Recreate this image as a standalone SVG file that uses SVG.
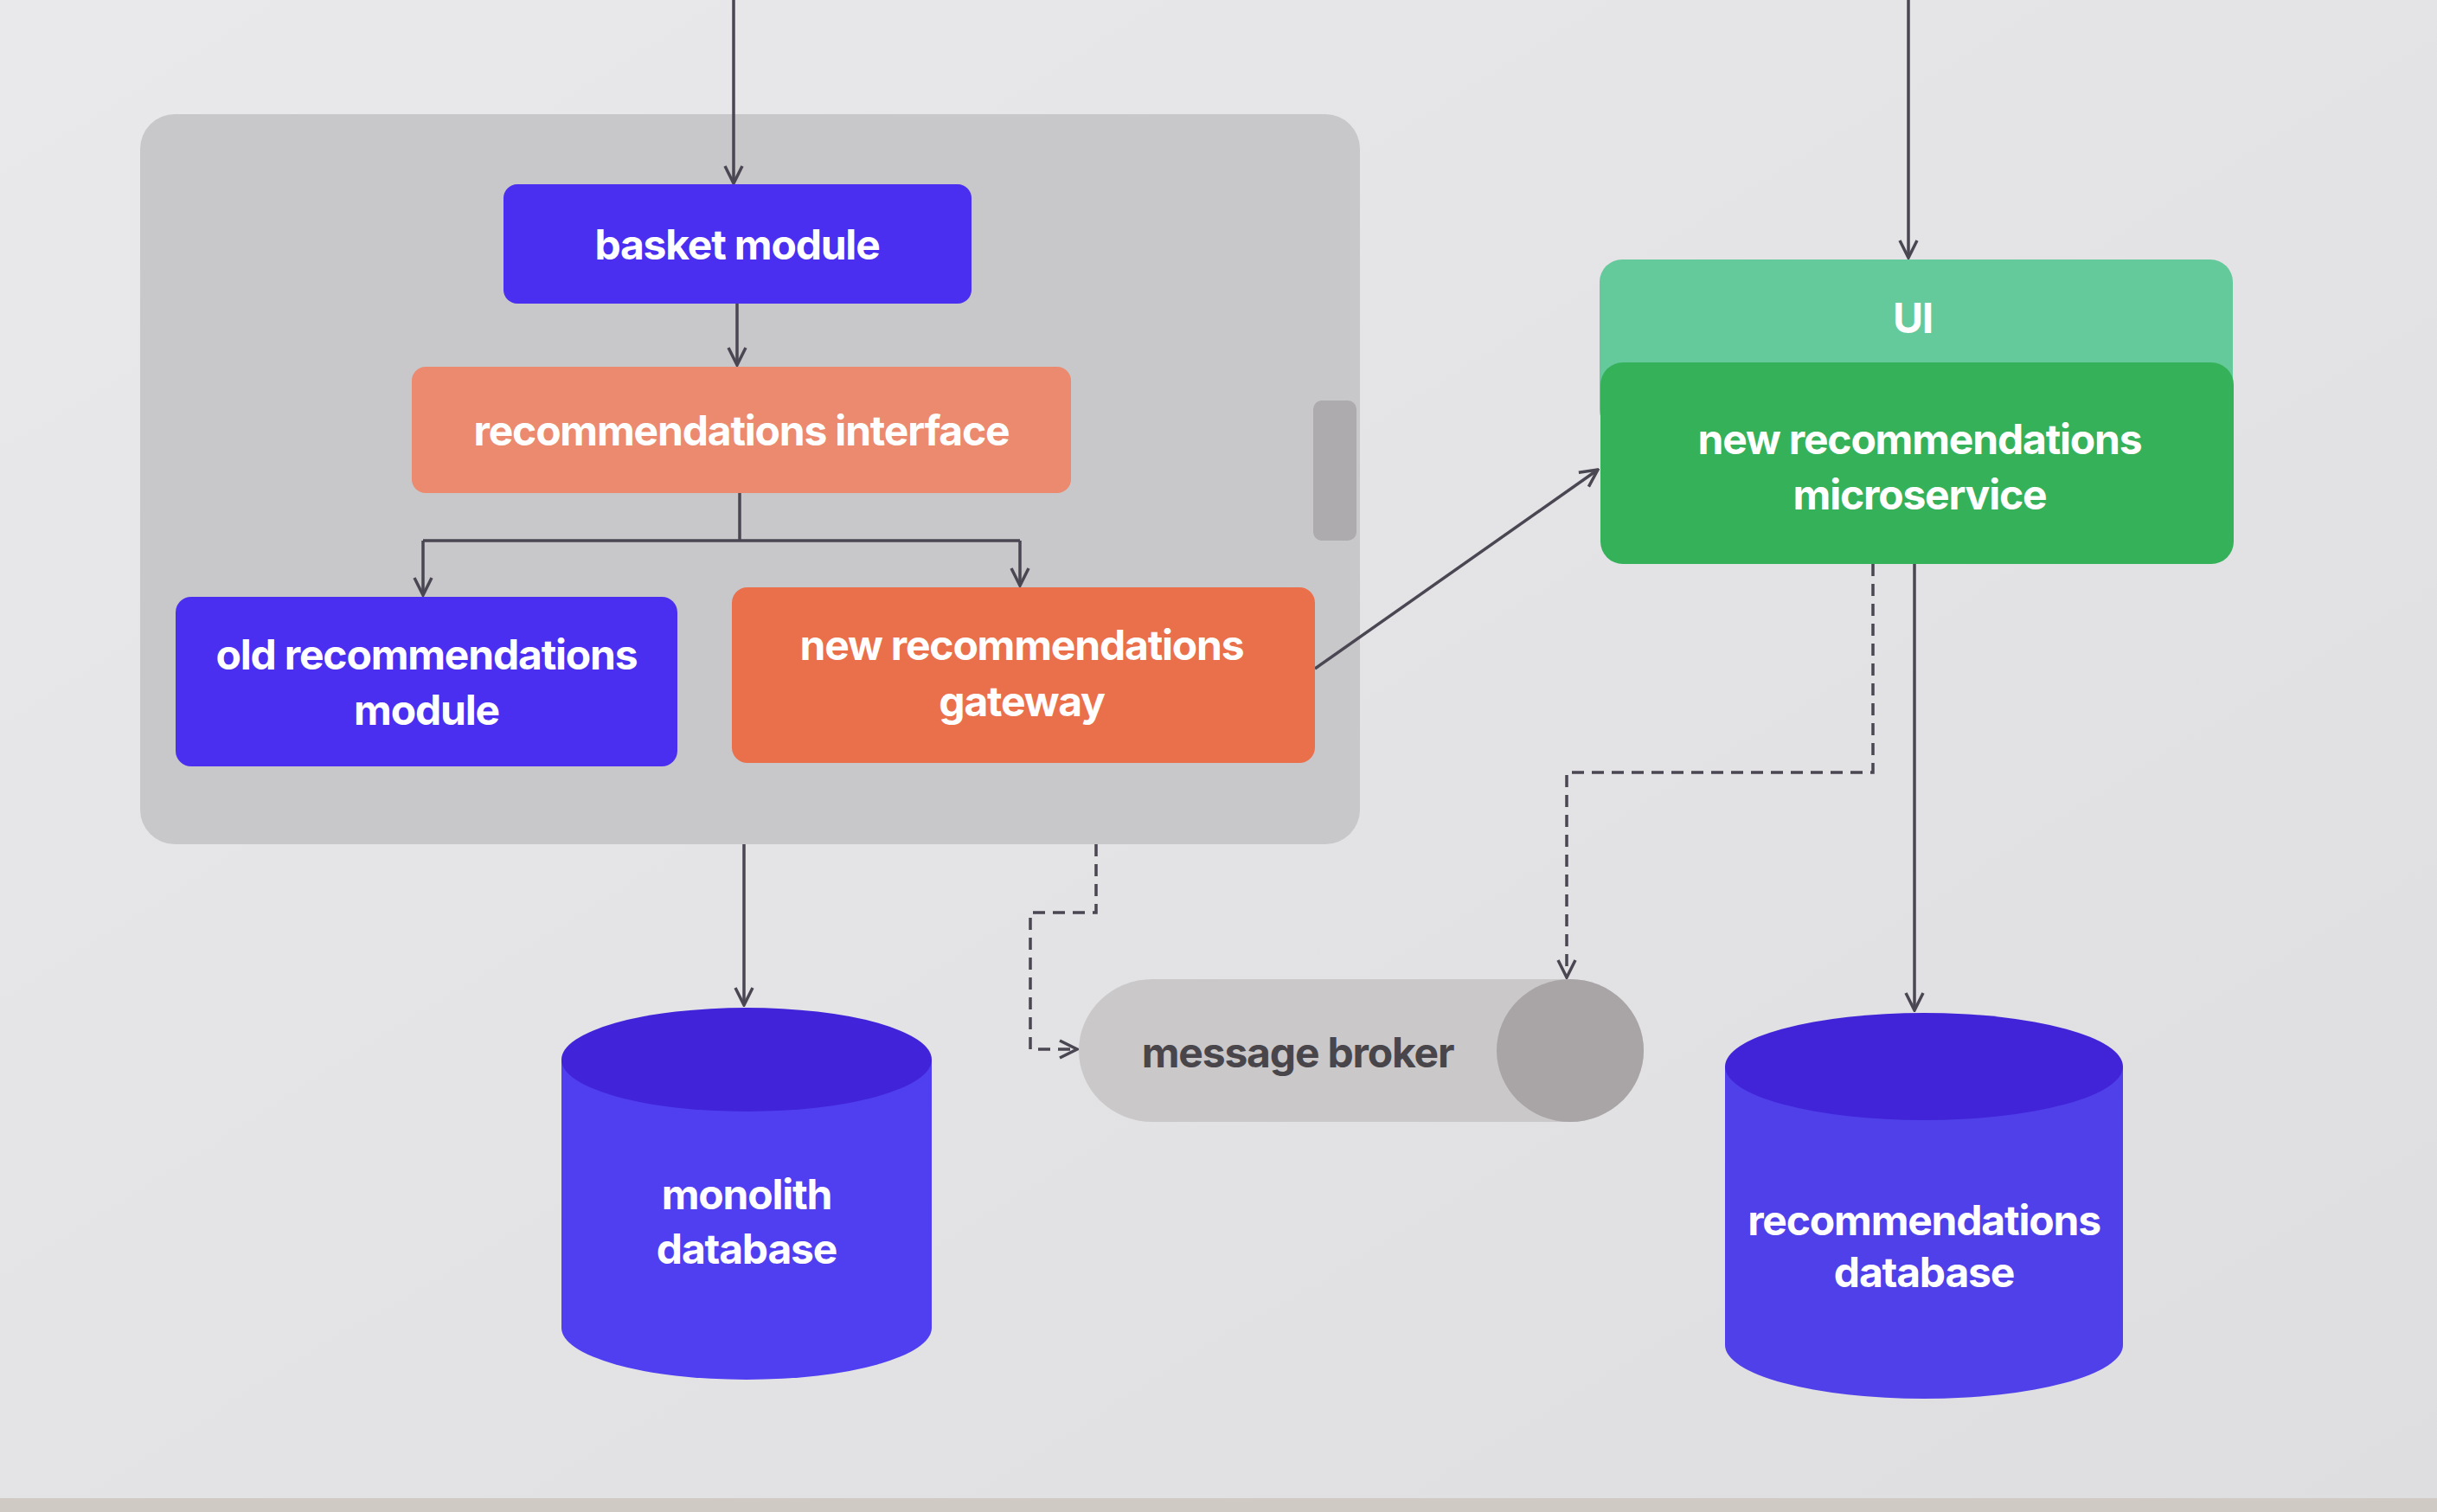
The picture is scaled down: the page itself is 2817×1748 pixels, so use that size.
<svg xmlns="http://www.w3.org/2000/svg" width="2817" height="1748" viewBox="0 0 2817 1748">
<defs>
<linearGradient id="bg" x1="0" y1="0" x2="1" y2="1">
<stop offset="0" stop-color="#e9e9eb"/>
<stop offset="1" stop-color="#dedddf"/>
</linearGradient>
<marker id="ah" viewBox="0 0 24 24" refX="22" refY="12" markerWidth="24" markerHeight="24" markerUnits="userSpaceOnUse" orient="auto">
<path d="M2,2 L22,12 L2,22" fill="none" stroke="#4a4652" stroke-width="3.5"/>
</marker>
<style>
.lbl{font-family:Inter,"Liberation Sans",sans-serif;font-weight:700;font-size:48px;letter-spacing:-1.2px;fill:#ffffff;text-anchor:middle;dominant-baseline:central}
.dark{fill:#49464b}
.con{fill:none;stroke:#4a4652;stroke-width:3.5}
.dash{stroke-dasharray:14 9}
</style>
</defs>
<rect x="0" y="0" width="2817" height="1748" fill="url(#bg)"/>
<rect x="0" y="1732" width="2817" height="16" fill="#cfcac4"/>

<g id="container">
<rect x="162" y="132" width="1410" height="844" rx="40" fill="#c8c7ca"/>
<rect x="1518" y="463" width="50" height="162" rx="10" fill="#adabae"/>
</g>

<g id="connectors">
<path class="con" d="M848,0 V212" marker-end="url(#ah)"/>
<path class="con" d="M2206,0 V298" marker-end="url(#ah)"/>
<path class="con" d="M852,351 V422" marker-end="url(#ah)"/>
<path class="con" d="M855,570 V625"/>
<path class="con" d="M489,625 H1179"/>
<path class="con" d="M489,625 V688" marker-end="url(#ah)"/>
<path class="con" d="M1179,625 V677" marker-end="url(#ah)"/>
<path class="con" d="M1520,773 L1847,543" marker-end="url(#ah)"/>
<path class="con" d="M860,976 V1162" marker-end="url(#ah)"/>
<path class="con dash" d="M1267,976 V1055 H1191 V1213 H1245" marker-end="url(#ah)"/>
<path class="con dash" d="M2165,652 V893 H1811 V1130" marker-end="url(#ah)"/>
<path class="con" d="M2213,652 V1168" marker-end="url(#ah)"/>
</g>

<g id="basket-module">
<rect x="582" y="213" width="541" height="138" rx="16" fill="#4a2ff0"/>
<text class="lbl" x="852" y="282">basket module</text>
</g>

<g id="recommendations-interface">
<rect x="476" y="424" width="762" height="146" rx="16" fill="#eb8a6f"/>
<text class="lbl" x="857" y="497">recommendations interface</text>
</g>

<g id="old-recommendations-module">
<rect x="203" y="690" width="580" height="196" rx="18" fill="#4a2ff0"/>
<text class="lbl" x="493" y="756">old recommendations</text>
<text class="lbl" x="493" y="820">module</text>
</g>

<g id="new-recommendations-gateway">
<rect x="846" y="679" width="674" height="203" rx="18" fill="#ea6f4b"/>
<text class="lbl" x="1181" y="745">new recommendations</text>
<text class="lbl" x="1181" y="810">gateway</text>
</g>

<g id="ui">
<rect x="1849" y="300" width="732" height="200" rx="26" fill="#64c99b"/>
<text class="lbl" x="2211" y="367">UI</text>
</g>

<g id="new-recommendations-microservice">
<rect x="1850" y="419" width="732" height="233" rx="26" fill="#35b15a"/>
<text class="lbl" x="2219" y="507">new recommendations</text>
<text class="lbl" x="2219" y="571">microservice</text>
</g>

<g id="monolith-database">
<path d="M649,1225 V1535 A214,60 0 0 0 1077,1535 V1225 Z" fill="#4f3ff0"/>
<ellipse cx="863" cy="1225" rx="214" ry="60" fill="#4123d9"/>
<text class="lbl" x="863" y="1380">monolith</text>
<text class="lbl" x="863" y="1443">database</text>
</g>

<g id="message-broker">
<path d="M1332,1132 H1815 A85,82.5 0 0 1 1815,1297 H1332 A85,82.5 0 0 1 1332,1132 Z" fill="#cac8c9"/>
<ellipse cx="1815" cy="1214.5" rx="85" ry="82.5" fill="#a9a5a7"/>
<text class="lbl dark" x="1500" y="1216">message broker</text>
</g>

<g id="recommendations-database">
<path d="M1994,1233 V1555 A230,62 0 0 0 2454,1555 V1233 Z" fill="#5040ea"/>
<ellipse cx="2224" cy="1233" rx="230" ry="62" fill="#4124d8"/>
<text class="lbl" x="2224" y="1410">recommendations</text>
<text class="lbl" x="2224" y="1470">database</text>
</g>
</svg>
